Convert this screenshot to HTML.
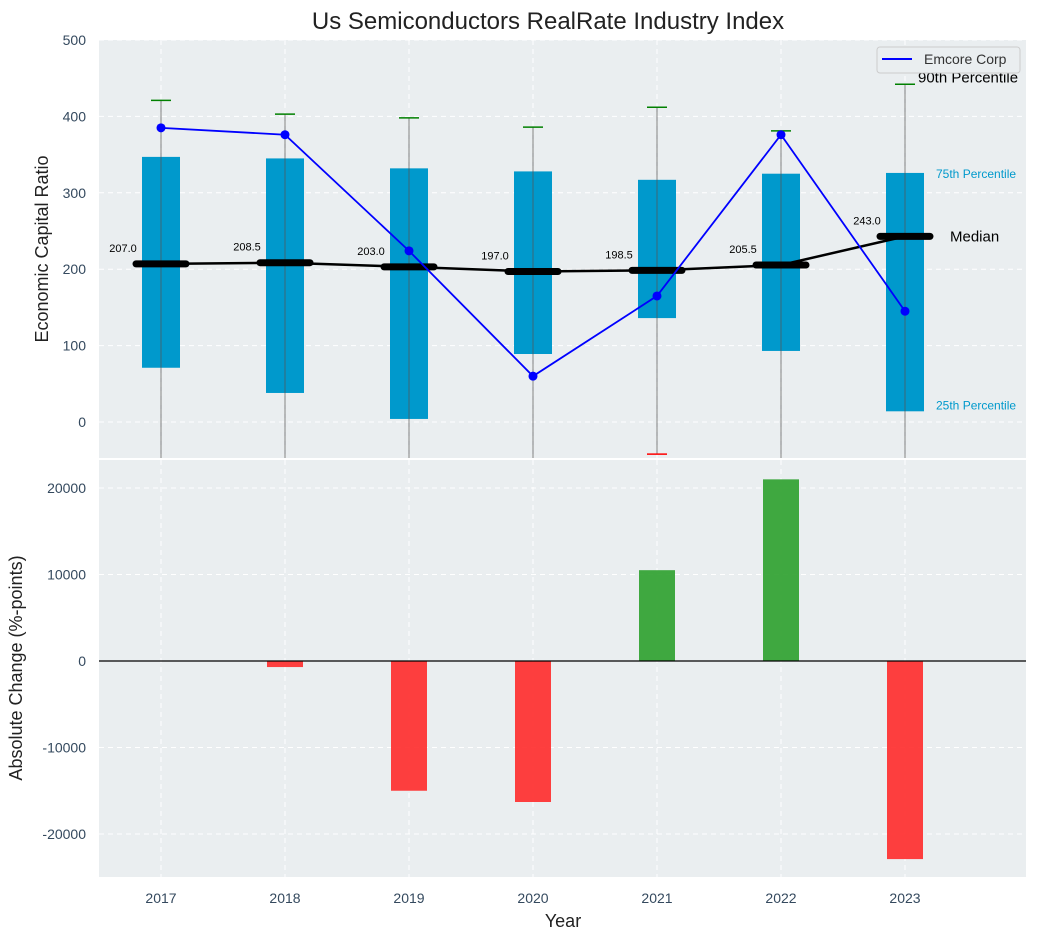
<!DOCTYPE html>
<html><head><meta charset="utf-8"><style>
body{margin:0;background:#fff;font-family:"Liberation Sans",Arial,sans-serif}
svg text{font-family:"Liberation Sans",Arial,sans-serif}
</style></head><body>
<svg id="c" width="1038" height="940" xmlns="http://www.w3.org/2000/svg"></svg>
<script>
const years=[2017,2018,2019,2020,2021,2022,2023];
const p25=[71,38,4,89,136,93,14];
const p75=[347,345,332,328,317,325,326];
const p90=[421,403,398,386,412,381,442];
const p10=[-80,-80,-80,-80,-42,-80,-80];
const medians=[207,208.5,203,197,198.5,205.5,243];
const emcore=[385,376,224,60,165,376,145];
const changes=[0,-700,-15000,-16300,10500,21000,-22900];
const topTicks=[0,100,200,300,400,500];
const botTicks=[-20000,-10000,0,10000,20000];

const S=document.getElementById('c');const NS='http://www.w3.org/2000/svg';
function el(t,a,p){const e=document.createElementNS(NS,t);for(const k in a)e.setAttribute(k,a[k]);(p||S).appendChild(e);return e;}
const L=99,R=1026;
const X=v=>161+(v-2017)*124;
const Y1=v=>422-v*0.764;
const Y2=v=>661-v*0.00865;
const T1=40,B1=458,T2=460,B2=877;
let g;
// backgrounds
g=el('rect',{x:L,y:T1,width:R-L,height:B1-T1,fill:'#eaeef0'});

g=el('rect',{x:L,y:T2,width:R-L,height:B2-T2,fill:'#eaeef0'});

// grids
years.forEach(y=>{el('line',{x1:X(y),x2:X(y),y1:T1,y2:B1,stroke:'#fff','stroke-dasharray':'5,4','stroke-width':1});el('line',{x1:X(y),x2:X(y),y1:T2,y2:B2,stroke:'#fff','stroke-dasharray':'5,4','stroke-width':1});});
topTicks.forEach(t=>{el('line',{x1:L,x2:R,y1:Y1(t),y2:Y1(t),stroke:'#fff','stroke-dasharray':'5,4'});
 g=el('text',{x:86,y:Y1(t)+5,'text-anchor':'end','font-size':14,fill:'#34495e'});g.textContent=t;
 });
botTicks.forEach(t=>{el('line',{x1:L,x2:R,y1:Y2(t),y2:Y2(t),stroke:'#fff','stroke-dasharray':'5,4'});
 g=el('text',{x:86,y:Y2(t)+5,'text-anchor':'end','font-size':14,fill:'#34495e'});g.textContent=t;
 });
// top clip
const cp=el('clipPath',{id:'cl'});el('rect',{x:L,y:T1,width:R-L,height:B1-T1},cp);
const gt=el('g',{'clip-path':'url(#cl)'});
years.forEach((y,i)=>{
 g=el('rect',{x:X(y)-19,y:Y1(p75[i]),width:38,height:Y1(p25[i])-Y1(p75[i]),fill:'#0099cc'},gt);
 
 el('line',{x1:X(y),x2:X(y),y1:Y1(p90[i]),y2:Y1(p10[i]),stroke:'#555','stroke-opacity':0.6,'stroke-width':1.2},gt);
 g=el('line',{x1:X(y)-10,x2:X(y)+10,y1:Y1(p90[i]),y2:Y1(p90[i]),stroke:'green','stroke-width':1.5},gt);
 
 g=el('line',{x1:X(y)-10,x2:X(y)+10,y1:Y1(p10[i]),y2:Y1(p10[i]),stroke:'red','stroke-width':1.5},gt);
 
});
g=el('polyline',{points:years.map((y,i)=>X(y)+','+Y1(medians[i])).join(' '),fill:'none',stroke:'#000','stroke-width':2.5},gt);

years.forEach((y,i)=>{g=el('line',{x1:X(y)-25,x2:X(y)+25,y1:Y1(medians[i]),y2:Y1(medians[i]),stroke:'#000','stroke-width':7,'stroke-linecap':'round'},gt);
 
 g=el('text',{x:X(y)-38,y:Y1(medians[i])-12,'text-anchor':'middle','font-size':11,fill:'#000'},gt);g.textContent=medians[i].toFixed(1);
 });
g=el('polyline',{points:years.map((y,i)=>X(y)+','+Y1(emcore[i])).join(' '),fill:'none',stroke:'blue','stroke-width':1.8},gt);

years.forEach((y,i)=>{g=el('circle',{cx:X(y),cy:Y1(emcore[i]),r:4.5,fill:'blue'},gt);
 });
const last=years.length-1;
g=el('text',{x:936,y:Y1(p75[last])+5,'font-size':12,fill:'#0099cc'},gt);g.textContent='75th Percentile';
g=el('text',{x:936,y:Y1(p25[last])-2,'font-size':12,fill:'#0099cc'},gt);g.textContent='25th Percentile';
g=el('text',{x:950,y:Y1(medians[last])+5,'font-size':15,fill:'#000'},gt);g.textContent='Median';
g=el('text',{x:918,y:Y1(p90[last])-2,'font-size':15,fill:'#000'},gt);g.textContent='90th Percentile';
// legend
g=el('rect',{x:877,y:47,width:143,height:26,fill:'#eaeef0',stroke:'#ccc',rx:3});

el('line',{x1:882,x2:912,y1:59,y2:59,stroke:'blue','stroke-width':2});
g=el('text',{x:924,y:64,'font-size':14,fill:'#333'});g.textContent='Emcore Corp';

// bottom bars
years.forEach((y,i)=>{const v=changes[i];g=el('rect',{x:X(y)-18,y:Math.min(Y2(v),Y2(0)),width:36,height:Math.abs(Y2(v)-Y2(0)),fill:v>=0?'#2ca02c':'#ff2a2a','fill-opacity':0.9});
 
 g=el('text',{x:X(y),y:903,'text-anchor':'middle','font-size':14,fill:'#34495e'});g.textContent=y;
 });
el('line',{x1:L,x2:R,y1:Y2(0),y2:Y2(0),stroke:'#000','stroke-width':1.2});
// titles
g=el('text',{x:548,y:29,'text-anchor':'middle','font-size':24,fill:'#222'});g.textContent='Us Semiconductors RealRate Industry Index';

g=el('text',{x:563,y:927,'text-anchor':'middle','font-size':18,fill:'#222'});g.textContent='Year';

g=el('text',{x:48,y:249,'text-anchor':'middle','font-size':18,fill:'#222',transform:'rotate(-90 48 249)'});g.textContent='Economic Capital Ratio';

g=el('text',{x:22,y:668,'text-anchor':'middle','font-size':18,fill:'#222',transform:'rotate(-90 22 668)'});g.textContent='Absolute Change (%-points)';

</script></body></html>
